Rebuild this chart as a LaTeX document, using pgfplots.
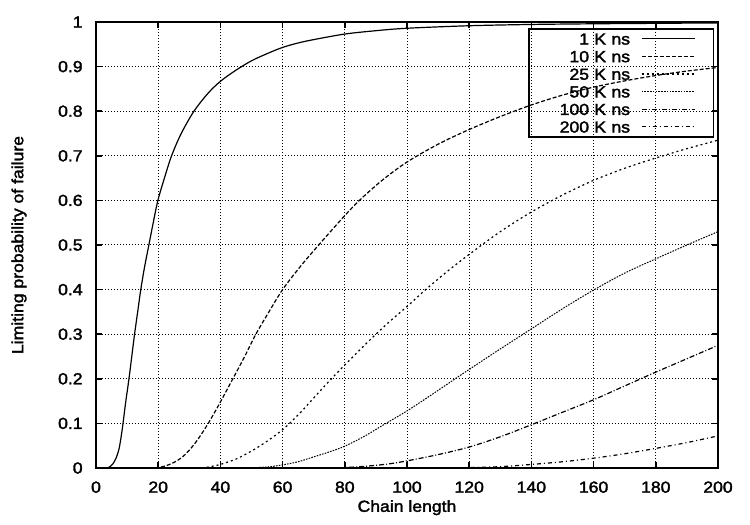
\documentclass[border=0pt]{standalone}
\usepackage{fontspec}
\setmainfont{Liberation Sans}[FakeStretch=1.1, FakeBold=2]
\usepackage{pgfplots}
\pgfplotsset{compat=1.18}
\begin{document}
\fontsize{8}{9.6}\selectfont
\begin{tikzpicture}
\useasboundingbox (-48pt,-28.5pt) rectangle (327pt,234pt);
\begin{axis}[
  at={(0,0)}, anchor=south west,
  scale only axis, width=311pt, height=223pt,
  xmin=0, xmax=200, ymin=0, ymax=1,
  xtick={0,20,40,60,80,100,120,140,160,180,200},
  ytick={0,0.1,0.2,0.3,0.4,0.5,0.6,0.7,0.8,0.9,1},
  grid=major,
  major grid style={black, line width=0.5pt, dash pattern=on 0.7pt off 0.8pt},
  tick align=inside, major tick length=3pt,
  tick style={black, line width=0.75pt},
  axis line style={line width=0.8pt},
  /pgf/number format/assume math mode=true,
  xticklabel style={anchor=base, yshift=-12.35pt, inner sep=0pt},
  yticklabel style={anchor=east, xshift=-6.5pt, inner sep=0pt},
  xlabel={Chain length},
  ylabel={Limiting probability of failure},
  xlabel style={at={([yshift=-21.9pt]axis description cs:0.5,0)}, anchor=base, inner sep=0pt},
  ylabel style={at={([xshift=-36.4pt]axis description cs:0,0.5)}, anchor=base, inner sep=0pt},
  legend style={at={(0.9936,0.9865)}, anchor=north east, draw=black, line width=0.75pt, fill=none,
    inner xsep=9pt, inner ysep=0.6pt, column sep=5.5pt,
    nodes={inner xsep=0pt, inner ysep=1.5pt, text height=5.8pt, text depth=0pt, text width=41.5pt, align=right}},
  legend cell align=right, legend plot pos=right,
  legend image code/.code={\draw[#1] (0pt,0pt) -- (26.5pt,0pt);},
]
\addplot[black, line width=0.6pt, smooth] coordinates {
(3.6,0) (4.5,0.003) (5.5,0.01) (6.5,0.023) (7.5,0.046) (8.5,0.09) (9.5,0.145) (10.6,0.2) (11.5,0.25) (12.4,0.3) (13.4,0.35) (14.4,0.4) (15.6,0.45) (17,0.5) (18.4,0.55) (19.9,0.6) (22,0.65) (24.3,0.7) (27.4,0.75) (31.5,0.8) (36,0.84) (40,0.867) (45,0.892) (50,0.913) (55,0.929) (60,0.943) (65,0.953) (70,0.9605) (80,0.973) (90,0.9805) (100,0.986) (120,0.9916) (140,0.9945) (160,0.996) (180,0.997) (200,0.998)
};
\addlegendentry{1 K ns}
\addplot[black, line width=0.6pt, smooth, dash pattern=on 2pt off 1pt] coordinates {
(19,0) (20,0.001) (22,0.004) (24,0.009) (26,0.016) (28,0.026) (30,0.04) (32,0.057) (34,0.077) (36,0.099) (38,0.123) (40,0.148) (44,0.2) (47.8,0.25) (51.4,0.3) (55.6,0.35) (60,0.4) (65.5,0.45) (71.6,0.5) (80,0.566) (85,0.602) (92,0.645) (100,0.686) (110,0.726) (120,0.759) (130,0.788) (140,0.814) (150,0.836) (160,0.854) (170,0.868) (180,0.88) (190,0.89) (200,0.898)
};
\addlegendentry{10 K ns}
\addplot[black, line width=0.6pt, smooth, dash pattern=on 1pt off 1.5pt] coordinates {
(34,0) (36,0.002) (40,0.008) (45,0.02) (50,0.038) (55,0.06) (60,0.086) (65,0.119) (70,0.157) (75,0.195) (80,0.231) (85,0.266) (90,0.3) (95,0.332) (100,0.362) (106,0.4) (113,0.441) (120,0.479) (130,0.53) (140,0.574) (150,0.612) (160,0.645) (170,0.672) (180,0.695) (190,0.716) (200,0.735)
};
\addlegendentry{25 K ns}
\addplot[black, line width=0.5pt, smooth, dash pattern=on 0.8pt off 0.6pt] coordinates {
(48,0) (52,0.001) (56,0.003) (60,0.007) (65,0.014) (70,0.025) (75,0.036) (80,0.049) (86,0.07) (92.5,0.097) (100,0.128) (107,0.16) (115.5,0.2) (120,0.221) (130,0.267) (140,0.312) (150,0.357) (160,0.399) (170,0.437) (180,0.469) (190,0.5) (200,0.53)
};
\addlegendentry{50 K ns}
\addplot[black, line width=0.6pt, smooth, dash pattern=on 2.5pt off 1pt on 0.5pt off 1pt] coordinates {
(75,0) (80,0.001) (85,0.003) (90,0.006) (95,0.01) (100,0.016) (110,0.03) (120,0.047) (130,0.07) (140,0.097) (150,0.125) (160,0.153) (170,0.184) (180,0.215) (190,0.245) (200,0.275)
};
\addlegendentry{100 K ns}
\addplot[black, line width=0.6pt, smooth, dash pattern=on 2pt off 1.5pt on 0.5pt off 1.5pt] coordinates {
(110,0) (120,0.001) (130,0.003) (140,0.008) (150,0.014) (160,0.022) (170,0.032) (180,0.044) (190,0.057) (200,0.072)
};
\addlegendentry{200 K ns}
\end{axis}
\end{tikzpicture}
\end{document}
